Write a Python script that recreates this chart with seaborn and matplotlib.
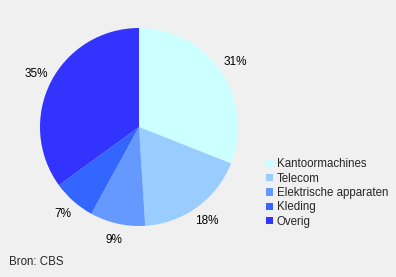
import matplotlib
matplotlib.use("Agg")
import matplotlib.pyplot as plt
import seaborn as sns
from matplotlib.patches import Patch

categories = ["Kantoormachines", "Telecom", "Elektrische apparaten", "Kleding", "Overig"]
values = [31, 18, 9, 7, 35]
colors = ["#ccffff", "#99ccff", "#6699ff", "#3366ff", "#3333ff"]

sns.set_style("white")
plt.rcParams['font.family'] = ['Liberation Sans', 'DejaVu Sans']
palette = sns.color_palette(colors)

bg = "#f0f0f0"
fig = plt.figure(figsize=(3.96, 2.77), dpi=100, facecolor=bg)
ax = fig.add_axes([0.101, 0.184, 0.5, 0.715])
ax.set_facecolor(bg)
wedges, texts, autotexts = ax.pie(
    values, colors=palette, startangle=90, counterclock=False,
    autopct=lambda p: f"{p:.0f}%", pctdistance=1.17,
    wedgeprops=dict(linewidth=0), textprops=dict(fontsize=8.5, color="black"))
ax.set_aspect("equal")
ax.set_xlim(-1, 1)
ax.set_ylim(-1, 1)

handles = [Patch(facecolor=c, edgecolor="none") for c in palette]
fig.legend(handles, categories, loc="upper left", bbox_to_anchor=(0.671, 0.428),
           frameon=False, fontsize=8.3, handlelength=0.62, handleheight=0.62,
           handletextpad=0.35, labelspacing=0.2, borderpad=0, borderaxespad=0)

fig.text(9 / 396, 1 - 262 / 277, "Bron: CBS", fontsize=8.3, va="center", ha="left")

fig.savefig("out.png", dpi=100, facecolor=bg)
